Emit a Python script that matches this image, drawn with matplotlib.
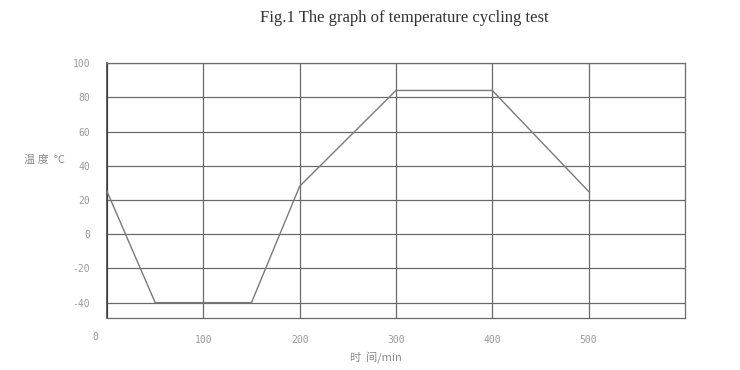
import matplotlib
matplotlib.use("Agg")
import matplotlib.pyplot as plt

# Data
time_min = [0, 50, 150, 200, 300, 400, 500]
temperature = [25, -40, -40, 28, 84, 84, 25]
x_ticks = [100, 200, 300, 400, 500]
y_ticks = [-40, -20, 0, 20, 40, 60, 80, 100]

plt.rcParams['font.family'] = ['Noto Sans CJK SC', 'DejaVu Sans']

fig = plt.figure(figsize=(7.4, 3.7), dpi=100)
ax = fig.add_axes([0.1446, 0.1405, 0.781, 0.689])

ax.set_xlim(0, 600)
ax.set_ylim(-49, 100)

grid_c = '#6a6a6a'
ax.set_xticks([0] + x_ticks)
ax.set_yticks(y_ticks)
ax.grid(True, color=grid_c, linewidth=0.9)
for s in ax.spines.values():
    s.set_color(grid_c)
    s.set_linewidth(0.9)
ax.spines['left'].set_color('#333333')
ax.spines['left'].set_linewidth(1.1)

ax.plot(time_min, temperature, color='#7a7a7a', linewidth=1.0, zorder=3)

tick_c = '#9a9a9a'
ax.tick_params(axis='both', length=0, colors=tick_c, labelsize=7)
ax.set_xticklabels([''] + [str(v) for v in x_ticks], family='DejaVu Sans Mono')
ax.set_yticklabels([str(v) for v in y_ticks], family='DejaVu Sans Mono')
ax.tick_params(axis='x', pad=12)
ax.tick_params(axis='y', pad=12)

# origin label
ax.text(-12, -57, '0', ha='center', va='top',
        fontsize=7, color=tick_c, family='DejaVu Sans Mono')

ax.text(-0.143, 0.62, '温 度  °C', transform=ax.transAxes, ha='left', va='center',
        fontsize=8, color='#8a8a8a')
ax.set_xlabel('时  间/min', fontsize=8, color='#8a8a8a')
ax.xaxis.set_label_coords(0.465, -0.13)

fig.text(0.547, 0.95, 'Fig.1 The graph of temperature cycling test',
         ha='center', va='center', fontsize=12, family='Liberation Serif',
         color='#333333')

fig.savefig('out.png', dpi=100)
